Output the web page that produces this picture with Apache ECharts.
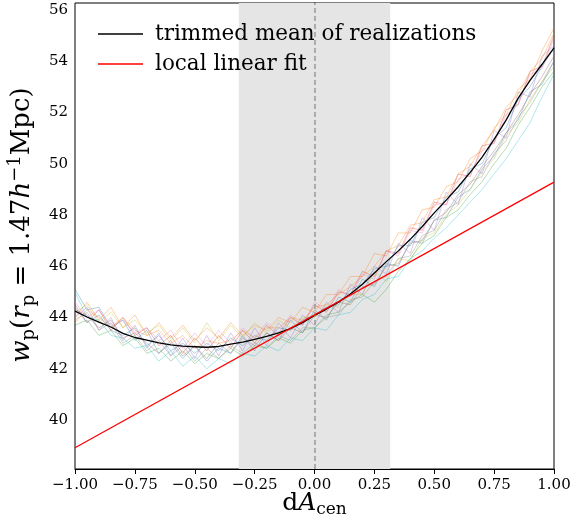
<!DOCTYPE html>
<html>
<head>
<meta charset="utf-8">
<script src="https://cdn.jsdelivr.net/npm/echarts@6/dist/echarts.min.js"></script>
<style>html,body{margin:0;padding:0;background:#fff}#c{width:574px;height:525px}</style>
</head>
<body>
<div id="c"></div>
<script>
// x grid of realizations and mean
const xs = [-1.00,-0.95,-0.90,-0.85,-0.80,-0.75,-0.70,-0.65,-0.60,-0.55,-0.50,-0.45,-0.40,-0.35,-0.30,-0.25,-0.20,-0.15,-0.10,-0.05,0.00,0.05,0.10,0.15,0.20,0.25,0.30,0.35,0.40,0.45,0.50,0.55,0.60,0.65,0.70,0.75,0.80,0.85,0.90,0.95,1.00];
const meanValues = [44.25,44.02,43.82,43.63,43.38,43.22,43.12,43.01,42.93,42.88,42.86,42.84,42.87,42.96,43.04,43.15,43.26,43.40,43.57,43.80,44.08,44.33,44.60,44.92,45.30,45.74,46.18,46.60,47.05,47.55,48.08,48.58,49.10,49.66,50.26,50.95,51.70,52.55,53.25,53.88,54.52];
const fitX = [-1, 1];
const fitValues = [38.92, 49.28];
const real1 = [45.1,44.3,44.4,43.6,43.9,43.1,43.5,42.6,43.0,42.4,42.9,42.3,42.8,42.6,43.3,42.7,43.4,43.1,43.9,43.4,44.3,43.9,44.8,44.6,45.5,45.2,46.1,46.0,47.0,46.9,47.8,47.9,48.7,49.0,49.8,50.3,51.2,51.7,52.8,53.1,54.0];
const real2 = [44.0,44.6,43.9,44.4,43.6,44.1,43.3,43.8,43.2,43.7,43.1,43.6,43.2,43.8,43.3,43.7,43.5,44.0,43.8,44.4,44.2,44.9,44.9,45.6,45.6,46.5,46.4,47.3,47.3,48.2,48.3,49.1,49.3,50.2,50.5,51.4,51.9,52.9,53.3,54.4,55.3];
const real3 = [43.7,43.9,43.3,43.5,42.9,43.2,42.6,42.8,42.3,42.7,42.2,42.6,42.4,42.8,42.5,42.9,42.8,43.2,43.0,43.5,43.6,44.1,44.2,44.6,44.9,44.6,45.1,45.8,46.3,46.9,47.2,47.9,48.2,48.8,49.3,50.0,50.6,51.5,52.2,53.0,53.6];
const real4 = [44.5,43.8,44.3,43.5,44.0,43.3,43.6,42.9,43.3,42.6,43.2,42.7,43.3,42.8,43.5,43.0,43.7,43.3,44.0,43.7,44.5,44.2,45.0,44.9,45.8,45.6,46.6,46.5,47.5,47.4,48.5,48.4,49.6,49.5,50.7,50.8,52.1,52.3,53.6,53.8,55.0];
const real5 = [44.0,44.4,43.5,44.0,43.1,43.7,42.8,43.4,42.5,43.2,42.4,43.3,42.5,43.4,42.7,43.6,42.9,43.8,43.2,44.1,43.7,44.6,44.2,45.3,44.9,46.0,45.7,46.9,46.5,47.9,47.4,48.9,48.4,50.0,49.6,51.3,51.0,52.8,52.6,54.2,54.6];
const real6 = [44.3,44.1,43.6,43.9,43.2,43.4,43.0,42.6,43.1,42.5,42.9,42.4,43.0,42.6,43.2,42.9,43.4,43.1,43.6,43.4,44.1,44.0,44.6,44.5,45.2,45.3,46.0,46.1,46.9,47.0,47.8,48.1,48.8,49.2,49.9,50.5,51.2,51.9,52.7,53.4,54.2];
const real7 = [44.6,44.0,44.3,43.7,43.9,43.4,43.6,43.1,43.5,42.8,43.4,42.9,43.5,43.0,43.6,43.2,43.8,43.4,44.1,43.7,44.6,44.3,45.1,44.8,45.7,45.5,46.6,46.4,47.4,47.3,48.4,48.4,49.4,49.6,50.5,50.8,51.9,52.3,53.5,53.7,54.9];
const real8 = [43.9,44.2,43.5,43.8,43.0,43.3,42.7,43.1,42.5,42.9,42.3,42.8,42.4,42.9,42.6,43.0,42.8,43.3,43.1,43.6,43.6,44.0,44.1,44.7,44.8,45.4,45.6,46.3,46.4,47.2,47.4,48.2,48.5,49.3,49.5,50.4,50.9,51.8,52.4,53.2,54.0];
const real9 = [44.2,44.5,43.8,44.2,43.6,43.9,43.4,43.7,43.1,43.6,43.0,43.8,43.1,43.7,43.2,43.8,43.4,43.9,43.6,44.0,44.0,44.5,44.4,44.9,44.9,45.8,45.4,46.3,46.2,47.1,47.3,48.0,48.4,49.0,49.7,50.2,51.1,51.6,52.5,53.2,53.8];
const real10 = [45.0,44.0,43.9,43.3,43.2,42.8,42.9,42.3,42.7,42.1,42.5,42.0,42.4,42.2,42.6,42.5,42.9,42.7,43.2,43.1,43.6,43.5,44.1,44.2,44.7,44.9,45.5,45.6,46.3,46.6,47.1,47.5,48.0,48.5,49.0,49.6,50.2,50.9,51.6,52.6,53.5];
const real11 = [44.4,43.8,44.1,43.5,43.3,43.6,42.9,43.3,42.7,43.0,42.6,43.0,42.7,43.2,42.9,43.3,43.1,43.6,43.5,43.9,44.1,44.4,44.5,45.1,45.3,45.9,46.0,46.8,46.8,47.7,47.9,48.7,48.9,49.8,50.0,51.0,51.4,52.5,53.0,53.8,54.5];
const real12 = [43.8,44.3,44.0,43.6,44.0,43.5,43.3,43.5,43.0,43.3,42.8,43.1,43.0,43.1,43.5,43.2,43.6,43.6,44.0,43.9,44.4,44.5,44.9,45.2,45.6,46.0,46.6,46.8,47.6,47.7,48.6,48.7,49.6,49.9,50.7,51.3,52.2,52.7,53.6,54.1,55.1];
const realizations = [real1, real2, real3, real4, real5, real6, real7, real8, real9, real10, real11, real12];
const realColors = ['#1f77b4','#ff7f0e','#2ca02c','#d62728','#9467bd','#8c564b','#e377c2','#7f7f7f','#bcbd22','#17becf','#1f77b4','#ff7f0e'];
const yTicks = [40, 42, 44, 46, 48, 50, 52, 54, 56];
const xTickStep = 0.25;
const bandRange = [-0.316, 0.316];

const FONT = 'DejaVu Serif';
const pair = (arr) => xs.map((x, i) => [x, arr[i]]);

const series = realizations.map((r, k) => ({
  type: 'line', name: 'r' + k, data: pair(r), symbol: 'none', silent: true,
  lineStyle: { color: realColors[k], width: 1, opacity: 0.35 }, z: 2
}));
series[0].markArea = {
  silent: true, itemStyle: { color: '#e5e5e5' },
  data: [[{ xAxis: bandRange[0] }, { xAxis: bandRange[1] }]]
};
series[0].markLine = {
  silent: true, symbol: 'none', label: { show: false },
  lineStyle: { color: '#999999', type: [5, 3], width: 1.5 },
  data: [{ xAxis: 0 }]
};
series.push({
  type: 'line', name: 'trimmed mean of realizations', data: pair(meanValues), symbol: 'none',
  lineStyle: { color: '#000', width: 1.3 }, itemStyle: { color: '#000' }, z: 4
});
series.push({
  type: 'line', name: 'local linear fit', data: fitX.map((x, i) => [x, fitValues[i]]), symbol: 'none',
  lineStyle: { color: '#ff0000', width: 1.3 }, itemStyle: { color: '#ff0000' }, z: 5
});

const chart = echarts.init(document.getElementById('c'));
chart.setOption({
  animation: false,
  backgroundColor: '#fff',
  grid: { left: 75, right: 20, top: 3, bottom: 56, containLabel: false, outerBoundsMode: 'none',
          show: true, borderColor: '#000', borderWidth: 1, backgroundColor: 'transparent' },
  legend: {
    data: [
      { name: 'trimmed mean of realizations', icon: 'rect', itemStyle: { color: '#000' } },
      { name: 'local linear fit', icon: 'rect', itemStyle: { color: '#ff0000' } }
    ],
    orient: 'vertical', left: 93, top: 18, itemWidth: 45, itemHeight: 1.5, itemGap: 8,
    textStyle: { fontFamily: FONT, fontSize: 21.5, color: '#000', lineHeight: 22, padding: [0, 0, 0, 7] },
    selectedMode: false
  },
  xAxis: {
    type: 'value', min: -1, max: 1, interval: xTickStep,
    name: 'd{i|A}{sub|cen}', nameLocation: 'middle', nameGap: 34, nameMoveOverlap: false,
    nameTextStyle: {
      fontFamily: FONT, fontSize: 25, color: '#000', lineHeight: 30, verticalAlign: 'middle',
      rich: {
        i: { fontFamily: FONT, fontStyle: 'italic', fontSize: 25, lineHeight: 30 },
        sub: { fontFamily: FONT, fontSize: 17, lineHeight: 17, padding: [14, 0, 0, 0] }
      }
    },
    axisLine: { show: true, lineStyle: { color: '#000', width: 1 } },
    axisTick: { show: true, length: 5, lineStyle: { color: '#000' } },
    splitLine: { show: false },
    axisLabel: {
      fontFamily: FONT, fontSize: 15, color: '#000', margin: 9,
      formatter: (v) => (v < 0 ? '\u2212' : '') + Math.abs(v).toFixed(2)
    }
  },
  yAxis: {
    type: 'value', min: 38.09, max: 56.27,
    name: '{i|w}{sub|p}({i|r}{sub|p} = 1.47{i|h}{sup|\u22121}Mpc)', nameLocation: 'middle', nameGap: 35, nameRotate: 90,
    nameTextStyle: {
      fontFamily: FONT, fontSize: 26, color: '#000', lineHeight: 32, padding: [0, 0, 0, 22],
      rich: {
        i: { fontFamily: FONT, fontStyle: 'italic', fontSize: 26, lineHeight: 32 },
        sub: { fontFamily: FONT, fontSize: 18, lineHeight: 18, padding: [14, 0, 0, 0] },
        sup: { fontFamily: FONT, fontSize: 18, lineHeight: 18, padding: [0, 0, 14, 0] }
      }
    },
    axisLine: { show: true, lineStyle: { color: '#000', width: 1 } },
    axisTick: { show: true, length: 5, lineStyle: { color: '#000' }, customValues: yTicks },
    splitLine: { show: false },
    axisLabel: { fontFamily: FONT, fontSize: 15, color: '#000', margin: 7, customValues: yTicks }
  },
  series: series
});
</script>
</body>
</html>
